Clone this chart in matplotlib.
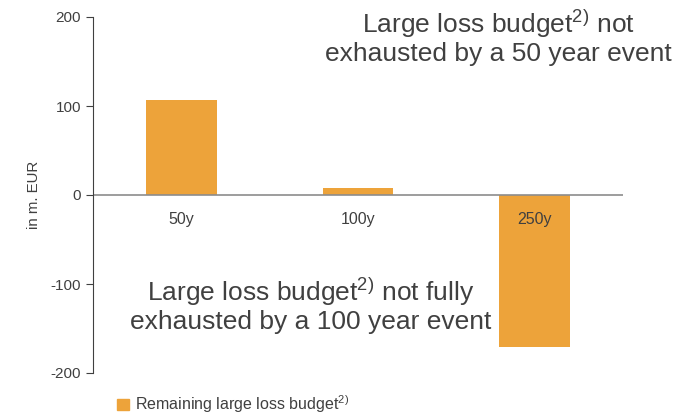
import matplotlib.pyplot as plt
from matplotlib.patches import Patch

plt.rcParams['font.family'] = ['Liberation Sans', 'DejaVu Sans']
plt.rcParams['mathtext.fontset'] = 'custom'
plt.rcParams['mathtext.rm'] = 'Liberation Sans'
plt.rcParams['mathtext.it'] = 'Liberation Sans'

categories = ["50y", "100y", "250y"]
remaining = [107, 8, -171]
yticks = [-200, -100, 0, 100, 200]

bar_color = "#eda33a"
text_color = "#404040"

fig = plt.figure(figsize=(6.83, 4.15), dpi=100)
ax = fig.add_axes([93/683, 1-373/415, 530/683, 356/415])

x = list(range(len(categories)))
ax.bar(x, remaining, width=0.4, color=bar_color)
ax.axhline(0, color="#8c8c8c", lw=1.2)

ax.set_xlim(-0.5, 2.5)
ax.set_ylim(-200, 200)
ax.set_yticks(yticks)
ax.set_yticklabels([str(t) for t in yticks], fontsize=11, color=text_color)
ax.tick_params(axis='y', direction='out', length=5, color=text_color, width=0.8)
ax.set_xticks([])
for s in ["top", "right", "bottom"]:
    ax.spines[s].set_visible(False)
ax.spines["left"].set_color(text_color)
ax.spines["left"].set_linewidth(0.8)

ax.set_ylabel("in m. EUR", fontsize=10.8, color=text_color, labelpad=7)

# category labels just below the zero line
for i, c in enumerate(categories):
    ax.annotate(c, (i, 0), xytext=(0, -12), textcoords="offset points",
                ha="center", va="top", fontsize=11.5, color=text_color)

fig.text(498/683, 1-37/415, "Large loss budget$^{2)}$ not\nexhausted by a 50 year event",
         ha="center", va="center", fontsize=19, color=text_color, linespacing=1.1)
fig.text(311/683, 1-305/415, "Large loss budget$^{2)}$ not fully\nexhausted by a 100 year event",
         ha="center", va="center", fontsize=19, color=text_color, linespacing=1.1)

handle = Patch(color=bar_color)
fig.legend([handle], ["Remaining large loss budget$^{2)}$"], loc="center left",
           bbox_to_anchor=(103/683, 1-404/415), frameon=False, fontsize=11.5,
           handlelength=0.7, handleheight=0.7, handletextpad=0.4, labelcolor=text_color)

fig.savefig("out.png", dpi=100)
